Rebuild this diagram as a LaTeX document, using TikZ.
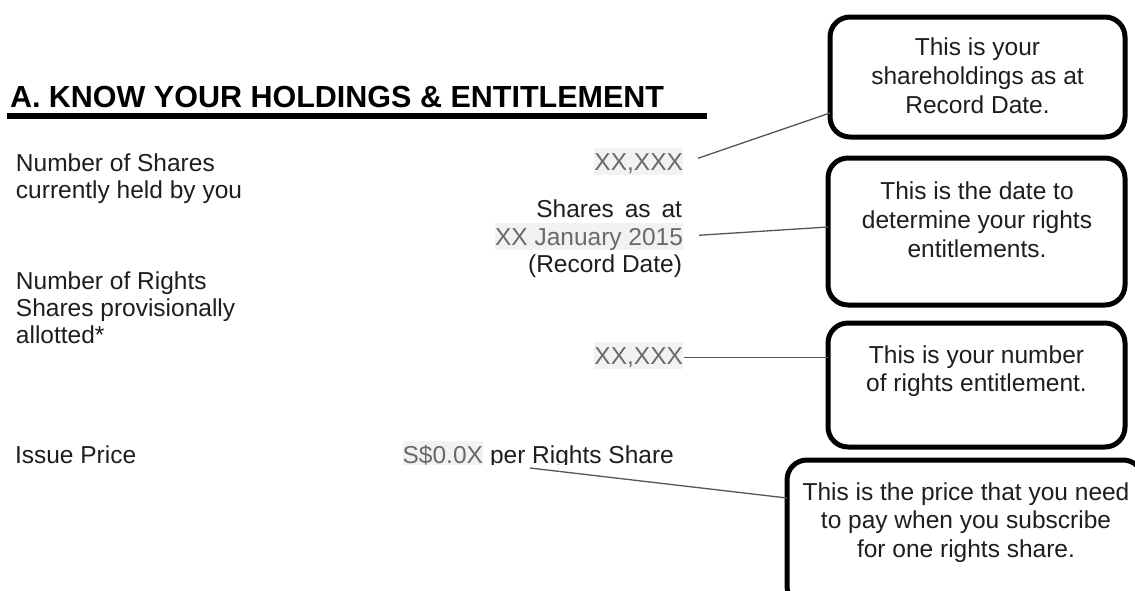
\documentclass[tikz,border=0pt]{standalone}
\usepackage{fontspec}
\setmainfont{Liberation Sans}
\usetikzlibrary{calc}
\definecolor{ink}{HTML}{1E1E1E}
\definecolor{fieldtext}{HTML}{6A6A6A}
\definecolor{fieldbg}{HTML}{F2F2F2}
\definecolor{conn}{HTML}{555555}
\begin{document}
\begin{tikzpicture}[x=1pt,y=-1pt,
  every node/.style={inner sep=0pt, outer sep=0pt, font=\fontsize{24.5}{28}\selectfont, text=ink},
  lbl/.style={anchor=base west},
  val/.style={anchor=base east},
  field/.style={anchor=base east, fill=fieldbg, text=fieldtext, text height=22.5pt, text depth=5pt},
  callout/.style={draw=black, line width=5pt, rounded corners=20pt, fill=white},
  ctext/.style={anchor=base},
  link/.style={draw=conn, line width=1.3pt}]
\useasboundingbox[fill=white] (0,0) rectangle (1135,590);

% heading
\node[anchor=base west, font=\fontsize{30.5}{34}\selectfont\bfseries, text=black] (head) at (10,107) {A. KNOW YOUR HOLDINGS \& ENTITLEMENT};
\draw[line width=6pt, black] (7,115.5) -- (707,115.5);

% left labels
\node[lbl] (l1) at (16,171) {Number of Shares};
\node[lbl] (l2) at (16,198) {currently held by you};
\node[lbl] (l3) at (16,289) {Number of Rights};
\node[lbl] (l4) at (16,316) {Shares provisionally};
\node[lbl] (l5) at (16,343) {allotted*};

% right values
\node[field] (xx1) at (683,170) {XX,XXX};
\node[val] (sa) at (682,217) {Shares\ \,as\ \,at};
\node[field] (date) at (683,245) {XX January 2015};
\node[val] (rd) at (682,272) {(Record Date)};
\node[field] (xx2) at (683,364) {XX,XXX};

\begin{scope}
  \clip (0,0) rectangle (1135,464.5);
  \node[lbl] (l6) at (15,463) {Issue Price};
  \node[field] (price) at (483,463) {S\$0.0X};
  \node[lbl] (prs) at (490,463) {per Rights Share};
\end{scope}

% callout boxes
\node[callout, minimum width=295pt, minimum height=120pt] (box1) at (977.5,77) {};
\node[callout, minimum width=297pt, minimum height=147pt] (box2) at (976.5,231.5) {};
\node[callout, minimum width=297pt, minimum height=124pt] (box3) at (976.5,385) {};
\node[callout, minimum width=356pt, minimum height=146pt] (box4) at (965,533) {};

\node[ctext] (t11) at (977.5,55) {This is your};
\node[ctext] (t12) at (977.5,84) {shareholdings as at};
\node[ctext] (t13) at (977.5,113) {Record Date.};

\node[ctext] (t21) at (977,199) {This is the date to};
\node[ctext] (t22) at (977,228) {determine your rights};
\node[ctext] (t23) at (977,257) {entitlements.};

\node[ctext] (t31) at (976.5,363) {This is your number};
\node[ctext] (t32) at (976.5,391) {of rights entitlement.};

\node[ctext] (t41) at (966,500) {This is the price that you need};
\node[ctext] (t42) at (966,528) {to pay when you subscribe};
\node[ctext] (t43) at (966,557) {for one rights share.};

% connectors
\coordinate (a1) at ($(xx1.east)+(15,-3)$);
\coordinate (b1) at ($(box1.south west)+(0,-24)$);
\draw[link] (a1) -- (b1);

\coordinate (a2) at ($(date.east)+(16,-1)$);
\coordinate (b2) at ($(box2.west)+(0,-4.5)$);
\draw[link] (a2) -- (b2);

\coordinate (a3) at ($(xx2.east)+(1,2)$);
\draw[link] (a3) -- (a3 -| box3.west);

\coordinate (a4) at (530,468);
\coordinate (b4) at ($(box4.west)+(0,-35)$);
\draw[link] (a4) -- (b4);
\end{tikzpicture}
\end{document}
